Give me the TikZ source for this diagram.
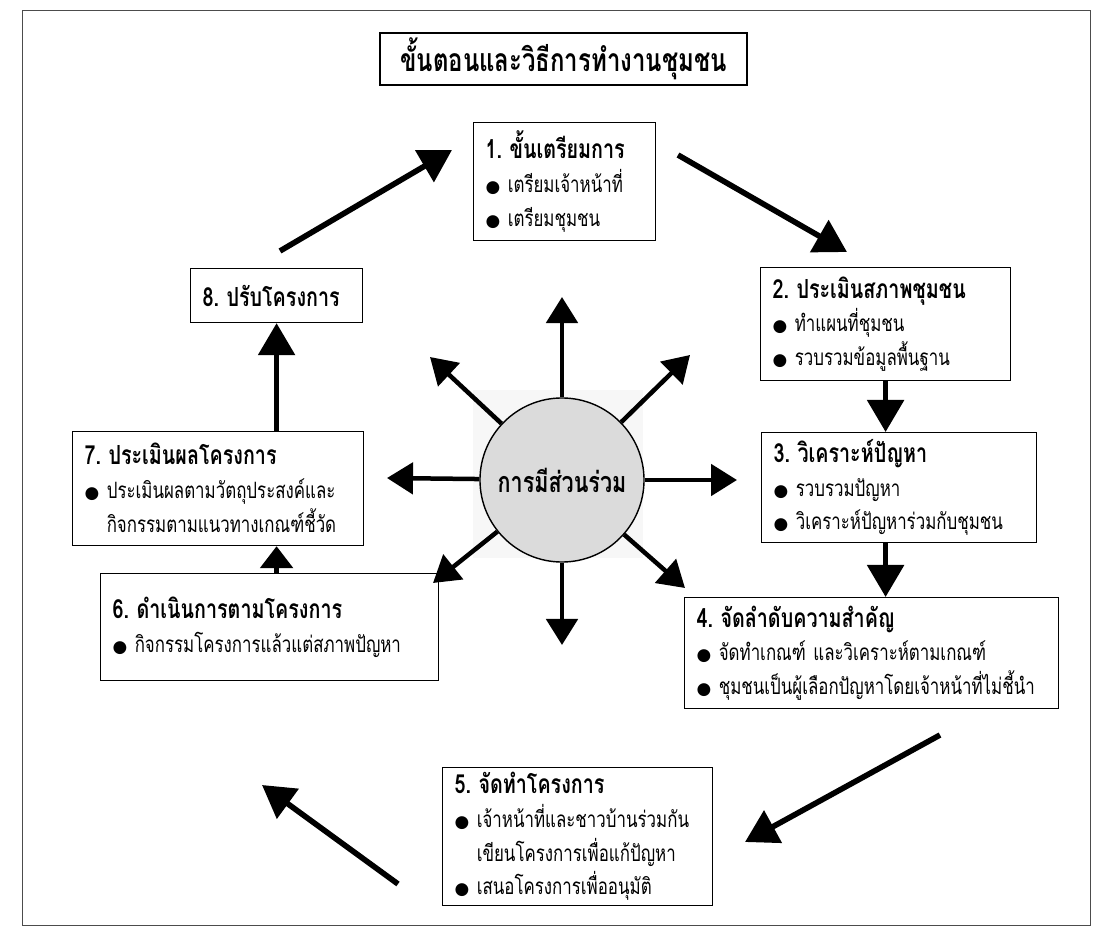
\documentclass[tikz,border=0pt]{standalone}
\usepackage{fontspec}
\newfontfamily\thaifont[Script=Thai, FakeStretch=0.75]{Loma}
\newfontfamily\symfont{DejaVu Sans}
\usetikzlibrary{arrows.meta}

\newcommand{\blt}{{\symfont\fontsize{12}{12}\selectfont ●}~}
\newcommand{\bltsp}{\phantom{\blt}}
\newcommand{\hd}[1]{{\bfseries\fontsize{18.7}{24}\selectfont #1}}

\tikzset{
	stepbox/.style={draw, line width=0.8pt, anchor=north west, align=left,
		inner xsep=0.3cm, inner ysep=0.1cm, font=\thaifont\fontsize{16}{24}\selectfont},
	titlebox/.style={draw, line width=1.1pt, minimum width=9.175cm, minimum height=1.3cm,
		font=\thaifont\bfseries\fontsize{22.7}{24}\selectfont},
	bigarrow/.style={line width=4pt, -{Triangle[length=0.8cm,width=0.9cm]}},
	radarrow/.style={line width=3.2pt, -{Triangle[length=0.65cm,width=0.78cm]}}
}

\begin{document}
\begin{tikzpicture}[x=0.025cm, y=-0.025cm]
	\useasboundingbox (0,0) rectangle (1113,938);
	\draw[line width=0.6pt, black!70] (22,10) rectangle (1090,925);

	\node[titlebox] (title) at (563.5,59) {ขั้นตอนและวิธีการทำงานชุมชน};

	% the eight steps
	\node[stepbox, text width=3.95cm, minimum height=2.95cm] (s1) at (473,122)
		{\hd{1.~ขั้นเตรียมการ}\\ \blt เตรียมเจ้าหน้าที่\\ \blt เตรียมชุมชน};
	\node[stepbox, text width=5.65cm, minimum height=2.825cm] (s2) at (760,267)
		{\hd{2.~ประเมินสภาพชุมชน}\\ \blt ทำแผนที่ชุมชน\\ \blt รวบรวมข้อมูลพื้นฐาน};
	\node[stepbox, text width=6.275cm, minimum height=2.75cm] (s3) at (761,432)
		{\hd{3.~วิเคราะห์ปัญหา}\\ \blt รวบรวมปัญหา\\ \blt วิเคราะห์ปัญหาร่วมกับชุมชน};
	\node[stepbox, text width=8.75cm, minimum height=2.775cm] (s4) at (684,597)
		{\hd{4.~จัดลำดับความสำคัญ}\\ \blt จัดทำเกณฑ์~และวิเคราะห์ตามเกณฑ์\\ \blt ชุมชนเป็นผู้เลือกปัญหาโดยเจ้าหน้าที่ไม่ชี้นำ};
	\node[stepbox, text width=6.15cm, minimum height=3.45cm] (s5) at (442,767)
		{\hd{5.~จัดทำโครงการ}\\ \blt เจ้าหน้าที่และชาวบ้านร่วมกัน\\ \bltsp เขียนโครงการเพื่อแก้ปัญหา\\ \blt เสนอโครงการเพื่ออนุมัติ};
	\node[stepbox, text width=7.85cm, minimum height=2.675cm] (s6) at (100,573)
		{\hd{6.~ดำเนินการตามโครงการ}\\ \blt กิจกรรมโครงการแล้วแต่สภาพปัญหา};
	\node[stepbox, text width=6.675cm, minimum height=2.85cm] (s7) at (72,431)
		{\hd{7.~ประเมินผลโครงการ}\\ \blt ประเมินผลตามวัตถุประสงค์และ\\ \bltsp กิจกรรมตามแนวทางเกณฑ์ชี้วัด};
	\node[stepbox, text width=3.7cm, minimum height=1.35cm] (s8) at (190,268)
		{\hd{8.~ปรับโครงการ}};

	% participation in the middle
	\fill[gray!6] (473,390) rectangle (643,558);
	\node[draw, circle, line width=1pt, fill=gray!28, minimum size=4.1cm,
		font=\thaifont\bfseries\fontsize{20.4}{22}\selectfont] (part) at (562,480) {การมีส่วนร่วม};
	\foreach \tx/\ty in {562/297, 690/355, 737/480, 685/588, 562/645, 433/583, 387/478, 430/357}
		\draw[radarrow] (part) -- (\tx,\ty);

	% the cycle
	\coordinate (a81) at (280,251);
	\coordinate (b81) at (452,150);
	\coordinate (a12) at (678,155);
	\coordinate (b12) at (847,252);
	\coordinate (a45) at (940,735);
	\coordinate (b45) at (745,842);
	\coordinate (a56) at (398,884);
	\coordinate (b56) at (262,785);
	\draw[bigarrow] (a81) -- (b81);
	\draw[bigarrow] (a12) -- (b12);
	\draw[bigarrow] (s2.south) -- (s2.south |- s3.north);
	\draw[bigarrow] (s2.south |- s3.south) -- (s2.south |- s4.north);
	\draw[bigarrow] (a45) -- (b45);
	\draw[bigarrow] (a56) -- (b56);
	\draw[line width=4pt, -{Triangle[length=0.55cm,width=0.8cm]}] (s8.south |- s6.north) -- (s8.south |- s7.south);
	\draw[bigarrow] (s8.south |- s7.north) -- (s8.south);
\end{tikzpicture}
\end{document}
